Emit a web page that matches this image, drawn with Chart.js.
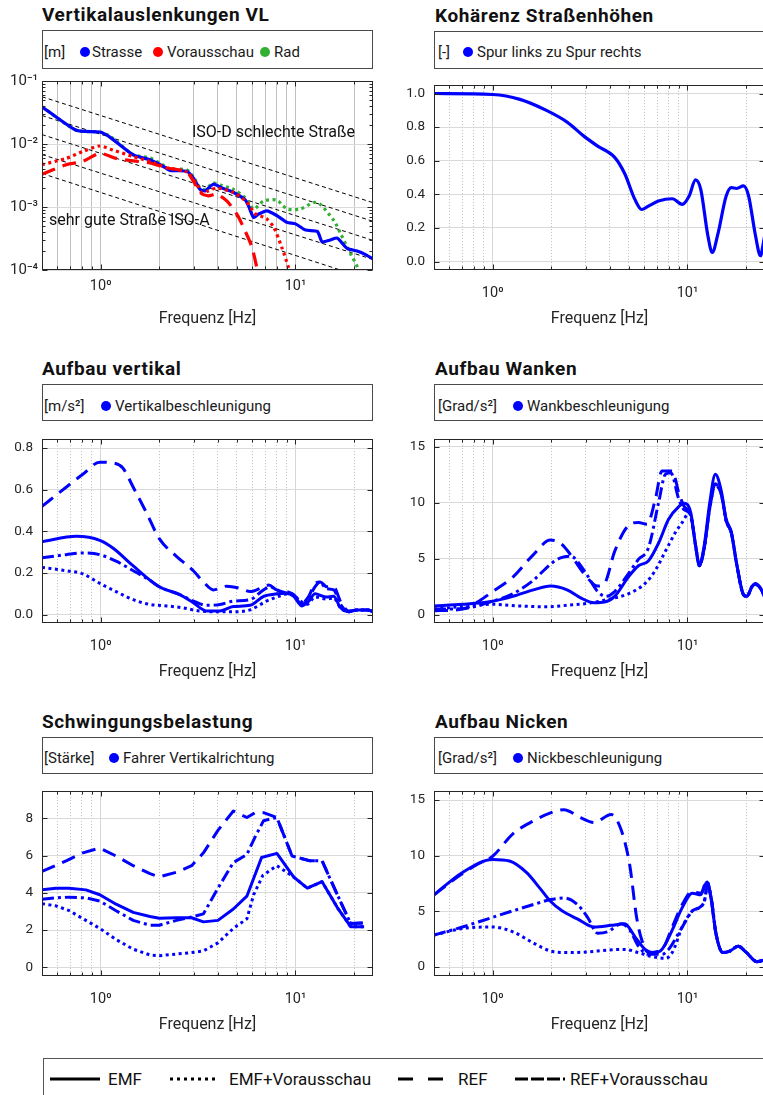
<!DOCTYPE html>
<html><head><meta charset="utf-8">
<script src="https://cdn.jsdelivr.net/npm/chart.js@4"></script>
<style>
body{margin:0;width:763px;height:1095px;overflow:hidden;background:#fff;position:relative;font-family:Roboto,'DejaVu Sans',sans-serif;color:#1a1a1a}
.title{position:absolute;font-weight:bold;font-size:19px;line-height:19px;letter-spacing:0.6px;white-space:nowrap;color:#111}
.lbox{position:absolute;border:1px solid #4a4a4a;background:#fff;box-sizing:border-box}
.lt{position:absolute;font-size:15px;line-height:15px;white-space:nowrap;color:#1a1a1a}
.dot{position:absolute;width:10px;height:10px;border-radius:50%}
.ann{position:absolute;font-size:16px;line-height:16px;white-space:nowrap;color:#111}
canvas{position:absolute}
</style>
</head><body>
<script>
// ---------- axes ----------
const xGridValues = [0.5,0.6,0.7,0.8,0.9,1,2,3,4,5,6,7,8,9,10,20];
const xTickLabels = {1:'10⁰', 10:'10¹'};
const vlTicks = [1e-4,1e-3,1e-2,1e-1];
const vlTickLabels = ['10⁻⁴','10⁻³','10⁻²','10⁻¹'];
const vlMinorTicks = [2e-4,3e-4,4e-4,5e-4,6e-4,7e-4,8e-4,9e-4,2e-3,3e-3,4e-3,5e-3,6e-3,7e-3,8e-3,9e-3,2e-2,3e-2,4e-2,5e-2,6e-2,7e-2,8e-2,9e-2];
const kohTicks = [0,0.2,0.4,0.6,0.8,1.0];
const avTicks = [0,0.2,0.4,0.6,0.8];
const wankTicks = [0,5,10,15];
const schwTicks = [0,2,4,6,8];
const nickTicks = [0,5,10,15];

// ---------- Vertikalauslenkungen VL ----------
const vlStrasseF = [0.5,0.75,0.99,1.11,1.47,1.79,2.1,2.27,2.76,2.99,3.24,3.43,3.79,4.19,4.81,5.52,5.74,6.1,6.46,7.13,8.03,9.05,10,11.26,12.95,13.7,15.1,16.4,18.4,20.7,22.5,25];
const vlStrasse  = [0.039,0.0165,0.0155,0.013,0.0067,0.0056,0.0044,0.0038,0.0037,0.0029,0.0019,0.0018,0.0023,0.0020,0.0017,0.0013,0.00104,0.00068,0.00077,0.00087,0.00073,0.00057,0.00054,0.00043,0.00041,0.00028,0.0003,0.00032,0.00022,0.0002,0.00018,0.00015];
const vlRadF = [0.5,0.75,0.99,1.11,1.47,1.79,2.1,2.27,2.76,2.99,3.24,3.43,3.79,4.19,4.81,5.52,6.1,6.86,8.03,9.05,10.6,12.4,13.4,15.8,17.1,19.2,20.8,22];
const vlRad  = [0.039,0.0165,0.0155,0.0135,0.0068,0.006,0.0046,0.004,0.0039,0.003,0.002,0.0019,0.0024,0.0022,0.0019,0.0014,0.00093,0.00125,0.00128,0.00093,0.00093,0.00118,0.0011,0.0006,0.00037,0.00018,0.00011,0.00006];
const vlVorPunktF = [0.5,0.665,0.81,0.99,1.16,1.47,1.79,2.18,2.76,3.11,3.3,3.57,3.94,4.81,5.62,6.22,6.86,7.13,7.73,8.5,9.2,9.6];
const vlVorPunkt  = [0.0047,0.0059,0.0076,0.0093,0.008,0.0063,0.0053,0.0042,0.0036,0.0023,0.0017,0.0018,0.002,0.0017,0.0012,0.00078,0.00069,0.00065,0.00048,0.00023,0.00011,0.00006];
const vlVorStrichF = [0.5,0.665,0.81,0.99,1.2,1.47,1.79,2.18,2.76,2.99,3.24,3.57,3.94,4.44,5.0,5.4,5.98,6.33,6.6];
const vlVorStrich  = [0.0033,0.0047,0.0053,0.0071,0.0059,0.0054,0.005,0.0042,0.0036,0.0026,0.0017,0.0015,0.0016,0.00125,0.00077,0.00048,0.00023,0.00011,0.00006];
const isoF = [0.5,25];
const isoE = [0.0562,0.00117];
const isoD = [0.0283,0.000593];
const isoC = [0.0141,0.000295];
const isoB = [0.0068,0.000147];
const isoA = [0.0034,0.000068];

// ---------- Kohärenz ----------
const kohF = [0.5,1.0,1.38,1.9,2.41,2.95,3.46,4.23,4.76,5.37,5.82,6.3,7.1,8.35,9.4,10.2,11.0,11.7,12.7,13.4,14.3,15.8,16.8,17.9,19.4,20.6,22.3,23.7,24.6,25.6];
const koh  = [1.0,0.994,0.965,0.898,0.83,0.745,0.687,0.62,0.524,0.37,0.31,0.33,0.36,0.374,0.34,0.39,0.486,0.43,0.16,0.054,0.16,0.39,0.44,0.435,0.45,0.39,0.16,0.035,0.12,0.24];

// ---------- Aufbau vertikal ----------
const avEmfF = [0.5,0.75,0.99,1.16,1.47,2.0,2.55,2.99,3.5,4.1,4.8,5.85,6.86,8.0,9.0,9.8,10.8,11.7,12.6,14.3,15.7,17.0,18.8,20.8,23.4,25];
const avEmf  = [0.35,0.376,0.357,0.319,0.234,0.134,0.096,0.057,0.018,0.018,0.039,0.045,0.088,0.1,0.103,0.088,0.042,0.065,0.1,0.085,0.088,0.034,0.014,0.023,0.023,0.014];
const avEmfVF = [0.5,0.665,0.81,0.99,1.2,1.47,1.79,2.18,2.6,3.2,3.94,4.8,5.85,7.1,8.4,9.4,10.6,11.5,12.6,14.3,15.7,17.0,18.8,20.8,23.4,25];
const avEmfV  = [0.227,0.211,0.196,0.15,0.111,0.072,0.049,0.042,0.034,0.018,0.014,0.014,0.023,0.065,0.091,0.103,0.065,0.05,0.085,0.075,0.08,0.034,0.014,0.023,0.023,0.014];
const avRefF = [0.5,0.665,0.81,0.99,1.16,1.3,1.47,1.72,2.0,2.45,2.99,3.37,3.79,4.44,5.2,5.85,6.86,7.3,8.0,9.05,9.8,10.8,11.7,12.6,13.4,14.5,15.7,17.0,18.8,20.8,23.4,25];
const avRef  = [0.52,0.612,0.674,0.732,0.728,0.704,0.612,0.489,0.365,0.28,0.211,0.157,0.119,0.137,0.126,0.111,0.134,0.142,0.119,0.111,0.096,0.057,0.088,0.15,0.157,0.134,0.134,0.065,0.018,0.023,0.023,0.014];
const avRefVF = [0.5,0.665,0.81,0.99,1.2,1.47,1.79,2.0,2.55,3.0,3.5,4.1,4.8,5.85,6.86,7.4,8.0,9.05,9.8,10.8,11.7,12.6,13.4,14.3,15.7,17.0,18.8,20.8,23.4,25];
const avRefV  = [0.273,0.288,0.296,0.288,0.257,0.211,0.165,0.134,0.096,0.065,0.045,0.049,0.065,0.072,0.119,0.134,0.119,0.103,0.091,0.05,0.08,0.134,0.157,0.126,0.119,0.05,0.014,0.023,0.023,0.014];

// ---------- Aufbau Wanken ----------
const wkEmfF = [0.5,0.7,1.0,1.27,1.62,1.98,2.41,2.83,3.32,3.75,4.23,4.97,5.6,6.3,7.1,8.0,9.05,9.6,10.4,11.0,11.5,12.2,13.0,13.9,14.9,15.8,16.8,17.9,19.4,20.2,21.4,22.3,23.7,25.6];
const wkEmf  = [0.8,0.95,1.23,1.66,2.24,2.58,2.24,1.52,1.09,1.15,1.66,3.38,4.39,4.82,6.4,8.55,9.7,9.98,9.12,6.25,4.53,6.25,9.98,12.56,11.1,8.55,7.4,4.53,1.81,1.66,2.52,2.81,2.38,1.09];
const wkEmfVF = [0.5,0.7,1.0,1.38,1.9,2.41,3.07,3.9,4.97,6.06,6.83,7.7,8.7,9.4,10.2,11.0,11.5,12.2,13.0,13.9,14.9,15.8,16.8,17.9,19.4,20.2,21.4,22.3,23.7,25.6];
const wkEmfV  = [0.52,0.75,0.95,0.8,0.72,0.86,1.03,1.38,1.89,2.81,3.96,5.68,7.4,8.26,9.12,6.25,4.4,6.0,9.5,11.7,10.8,8.4,7.3,4.5,1.8,1.66,2.5,2.75,2.38,1.09];
const wkRefF = [0.5,0.7,0.85,1.0,1.27,1.62,1.98,2.23,2.51,2.95,3.46,3.75,4.23,4.97,5.6,6.2,6.83,7.4,8.35,9.05,9.6,10.4,11.0,11.5,12.2,13.0,13.9,14.9,15.8,16.8,17.9,19.4,20.2,21.4,22.3,23.7,25.6];
const wkRef  = [0.37,0.52,1.23,2.09,3.38,5.39,6.68,6.4,5.39,3.67,2.58,2.81,5.68,7.97,8.26,8.1,10.27,12.85,12.85,10.84,9.7,8.9,6.2,4.4,6.0,9.5,11.5,10.8,8.4,7.3,4.5,1.8,1.66,2.5,2.75,2.38,1.09];
const wkRefVF = [0.5,0.7,1.0,1.27,1.62,1.98,2.23,2.51,2.95,3.46,3.82,4.23,4.97,5.6,6.3,7.1,7.7,8.2,9.05,9.6,10.4,11.0,11.5,12.2,13.0,13.9,14.9,15.8,16.8,17.9,19.4,20.2,21.4,22.3,23.7,25.6];
const wkRefV  = [0.52,0.57,1.23,1.89,3.1,4.53,5.1,5.25,3.96,2.09,1.66,2.09,3.67,4.96,5.97,9.98,12.56,12.7,10.27,9.4,8.9,6.2,4.4,6.0,9.5,11.7,10.8,8.4,7.3,4.5,1.8,1.66,2.5,2.75,2.38,1.09];

// ---------- Schwingungsbelastung ----------
const sbEmfF = [0.5,0.59,0.69,0.84,0.99,1.2,1.47,1.79,2.0,2.45,2.93,3.37,4.0,4.8,5.63,6.7,8.03,9.8,11.5,13.7,16.4,19.2,22.5];
const sbEmf  = [4.16,4.25,4.25,4.16,3.9,3.39,2.95,2.73,2.64,2.66,2.66,2.44,2.52,3.13,3.82,5.9,6.12,4.85,4.25,4.6,3.21,2.18,2.18];
const sbEmfVF = [0.5,0.59,0.69,0.84,0.99,1.2,1.47,1.79,2.0,2.45,2.93,3.37,4.0,4.8,5.63,6.1,6.8,8.03,9.8,11.5,13.7,16.4,19.2,22.5];
const sbEmfV  = [3.42,3.3,3.04,2.52,2.09,1.49,0.97,0.66,0.62,0.71,0.79,0.88,1.31,2.09,2.6,3.9,4.94,5.46,4.85,4.25,4.6,3.21,2.18,2.18];
const sbRefF = [0.5,0.665,0.81,0.99,1.2,1.47,1.79,2.0,2.45,2.93,3.37,4.0,4.8,5.63,6.2,6.86,8.03,9.6,11.9,13.7,16.4,19.2,22.5];
const sbRef  = [5.15,5.72,6.15,6.41,5.98,5.46,5.03,4.86,5.11,5.46,6.15,7.36,8.4,8.05,8.31,8.31,8.05,5.98,5.72,5.72,3.9,2.35,2.38];
const sbRefVF = [0.5,0.59,0.69,0.84,0.99,1.2,1.47,1.79,2.0,2.45,2.93,3.37,4.0,4.8,5.63,6.2,6.86,8.03,9.6,11.9,13.7,16.4,19.2,22.5];
const sbRefV  = [3.65,3.73,3.77,3.73,3.56,3.04,2.52,2.26,2.26,2.52,2.7,2.87,4.25,5.63,6.06,7.0,7.88,8.05,5.98,5.72,5.72,3.9,2.35,2.38];

// ---------- Aufbau Nicken ----------
const nkEmfF = [0.5,0.7,1.0,1.22,1.49,1.75,1.98,2.27,2.72,3.32,4.06,4.76,5.37,6.06,6.83,7.4,8.35,9.4,10.6,11.7,12.6,13.2,14.0,15.2,16.5,18.2,20.1,22.7,25.6];
const nkEmf  = [6.49,8.5,9.66,9.52,8.5,7.07,5.91,5.05,4.33,3.6,3.75,3.89,2.74,1.59,1.3,1.59,3.32,5.34,6.63,6.49,7.64,6.2,3.03,1.3,1.44,1.87,1.3,0.49,0.72];
const nkEmfVF = [0.5,0.7,1.0,1.27,1.62,1.98,2.41,3.07,3.9,4.76,5.6,6.56,7.7,8.35,9.4,10.6,11.5,12.2,12.7,13.3,14.0,15.2,16.5,18.2,20.1,22.7,25.6];
const nkEmfV  = [2.88,3.46,3.6,3.17,2.16,1.44,1.3,1.36,1.53,1.59,1.3,0.95,0.78,1.3,3.6,5.05,5.34,5.91,7.36,6.0,3.03,1.3,1.44,1.87,1.3,0.49,0.72];
const nkRefF = [0.5,0.7,0.85,1.0,1.27,1.62,1.98,2.32,2.83,3.32,4.06,4.58,5.06,5.48,5.82,6.3,7.4,8.35,9.4,10.6,11.7,12.6,13.2,14.0,15.2,16.5,18.2,20.1,22.7,25.6];
const nkRef  = [6.49,8.4,9.3,9.95,11.97,13.13,13.85,14.13,13.41,12.98,13.7,12.26,9.09,4.47,2.45,1.3,1.59,3.6,5.62,6.78,6.63,7.79,6.2,3.03,1.3,1.44,1.87,1.3,0.49,0.72];
const nkRefVF = [0.5,0.7,1.0,1.27,1.62,1.98,2.32,2.72,3.07,3.46,3.9,4.58,5.06,5.6,6.3,7.4,8.0,9.4,10.6,11.5,12.2,12.7,13.3,14.0,15.2,16.5,18.2,20.1,22.7,25.6];
const nkRefV  = [2.88,3.6,4.47,5.05,5.62,6.06,6.2,5.62,4.47,3.03,3.17,3.89,3.32,1.87,1.15,1.15,1.59,3.6,5.05,5.34,5.91,7.36,6.0,3.03,1.3,1.44,1.87,1.3,0.49,0.72];

// ---------- helpers ----------
const FONT = "Roboto, 'DejaVu Sans', sans-serif";
const BLUE = '#0000ff', RED = '#ff0000', GREEN = '#33b033';
const DASH = {emf:[], emfV:[3,3.5], ref:[14,8], refV:[12,4,3,4]};

function ds(f, v, color, dash, width, extra){
  return Object.assign({
    data: f.map((x,i)=>({x:x, y:v[i]})),
    borderColor: color, borderWidth: width, borderDash: dash,
    borderCapStyle:'butt', borderJoinStyle:'round',
    pointRadius:0, fill:false
  }, extra||{});
}
function fourSeries(a, smooth){
  const ex = smooth ? {cubicInterpolationMode:'monotone'} : {tension:0};
  return [
    ds(a[0],a[1],BLUE,DASH.emf,3,ex),
    ds(a[2],a[3],BLUE,DASH.emfV,3,ex),
    ds(a[4],a[5],BLUE,DASH.ref,3,ex),
    ds(a[6],a[7],BLUE,DASH.refV,3,ex)
  ];
}

const framePlugin = {
  id:'frame',
  afterDatasetsDraw(chart, args, opts){
    const {ctx, chartArea:a, scales} = chart;
    ctx.save();
    ctx.strokeStyle = '#262626'; ctx.lineWidth = 1;
    const l = Math.round(a.left)+0.5, r = Math.round(a.right)-0.5, t = Math.round(a.top)+0.5, b = Math.round(a.bottom)-0.5;
    ctx.strokeRect(l, t, r-l, b-t);
    ctx.beginPath();
    for (const v of xGridValues){
      const x = Math.round(scales.x.getPixelForValue(v))+0.5;
      const len = (v===1||v===10) ? 5 : 3;
      ctx.moveTo(x,b); ctx.lineTo(x,b-len); ctx.moveTo(x,t); ctx.lineTo(x,t+len);
    }
    for (const v of opts.yTicks){
      const y = Math.round(scales.y.getPixelForValue(v))+0.5;
      ctx.moveTo(l,y); ctx.lineTo(l+5,y); ctx.moveTo(r,y); ctx.lineTo(r-5,y);
    }
    for (const v of (opts.yMinor||[])){
      const y = Math.round(scales.y.getPixelForValue(v))+0.5;
      ctx.moveTo(l,y); ctx.lineTo(l+3,y); ctx.moveTo(r,y); ctx.lineTo(r-3,y);
    }
    ctx.stroke();
    ctx.restore();
  }
};

function makePanel(cfg){
  const padT = 10, padR = 12, yW = 42, xH = 60;
  const W = yW + cfg.w + padR, H = padT + cfg.h + xH;
  const c = document.createElement('canvas');
  c.width = W; c.height = H;
  c.style.left = (cfg.left - yW) + 'px'; c.style.top = (cfg.top - padT) + 'px';
  c.style.width = W + 'px'; c.style.height = H + 'px';
  document.body.appendChild(c);
  const isMajor = v => v===1 || v===10;
  new Chart(c, {
    type:'line',
    data:{datasets: cfg.datasets},
    options:{
      responsive:false, animation:false, devicePixelRatio:1,
      layout:{padding:{top:padT, right:padR, left:0, bottom:0}},
      plugins:{legend:{display:false}, tooltip:{enabled:false}, frame:{yTicks:cfg.yTicks, yMinor:cfg.yMinor}},
      scales:{
        x:{
          type:'logarithmic', min:0.5, max:25,
          afterFit: s => { s.height = xH; },
          afterBuildTicks: s => { s.ticks = xGridValues.map(v => ({value:v})); },
          ticks:{autoSkip:false, maxRotation:0, minRotation:0, padding:cfg.xPad, color:'#262626',
                 font:{size:14.5, family:FONT}, callback: v => xTickLabels[v] || ''},
          grid:{drawTicks:false, lineWidth:1,
                color: ctx => cfg.solidMinor ? '#c2c2c2' : (isMajor(ctx.tick && ctx.tick.value) ? '#d6d6d6' : '#bdbdbd')},
          border:{display:false, dash: ctx => (cfg.solidMinor || isMajor(ctx.tick && ctx.tick.value)) ? [] : [1,2]},
          title:{display:true, text:'Frequenz [Hz]', color:'#262626', font:{size:16, family:FONT}, padding:{top:0, bottom:1}}
        },
        y:{
          type: cfg.yType || 'linear', min: cfg.yMin, max: cfg.yMax,
          afterFit: s => { s.width = yW; },
          afterBuildTicks: s => { s.ticks = cfg.yTicks.map(v => ({value:v})); },
          ticks:{autoSkip:false, padding:cfg.yPad || 9, color:'#262626', font:{size:cfg.yFont || 13.5, family:FONT}, callback: cfg.yFmt},
          grid:{drawTicks:false, lineWidth:1, color:'#dadada'},
          border:{display:false}
        }
      }
    },
    plugins:[framePlugin]
  });
}

function addTitle(text, left, top){
  const d = document.createElement('div'); d.className='title'; d.textContent=text;
  d.style.left = left+'px'; d.style.top = top+'px'; document.body.appendChild(d);
}
function addLegendBox(box, cy, items){
  const b = document.createElement('div'); b.className='lbox';
  b.style.left=box[0]+'px'; b.style.top=box[1]+'px'; b.style.width=box[2]+'px'; b.style.height=box[3]+'px';
  document.body.appendChild(b);
  for (const it of items){
    if (it.dot){
      const d = document.createElement('div'); d.className='dot'; d.style.background=it.dot;
      d.style.left=(it.x-5)+'px'; d.style.top=(cy-5)+'px'; document.body.appendChild(d);
    } else {
      const s = document.createElement('div'); s.className='lt'; s.innerHTML=it.t;
      s.style.left=it.x+'px'; s.style.top=(cy-7)+'px'; document.body.appendChild(s);
    }
  }
}
function addAnn(text, left, cy){
  const d = document.createElement('div'); d.className='ann'; d.textContent=text;
  d.style.left=left+'px'; d.style.top=(cy-8)+'px'; document.body.appendChild(d);
}

const fmt1 = v => Number(v).toFixed(1);
const fmt0 = v => String(Math.round(v));

// ---------- Panel 1 ----------
addTitle('Vertikalauslenkungen VL', 42, 5);
addLegendBox([42,30,331,39], 52, [
  {t:'[m]', x:44},{dot:BLUE, x:85},{t:'Strasse', x:92},
  {dot:RED, x:158},{t:'Vorausschau', x:167},{dot:GREEN, x:265},{t:'Rad', x:274}]);
makePanel({left:42, top:78, w:331, h:192, xPad:8, solidMinor:true,
  yType:'logarithmic', yMin:1e-4, yMax:1e-1, yTicks:vlTicks, yMinor:vlMinorTicks, yFont:15, yPad:4,
  yFmt: v => vlTickLabels[vlTicks.findIndex(t => Math.abs(Math.log10(t)-Math.log10(v))<1e-6)] || '',
  datasets:[
    ds(vlVorPunktF, vlVorPunkt, RED, [3,3.5], 3.2, {tension:0.25}),
    ds(vlVorStrichF, vlVorStrich, RED, [14,8], 3.2, {tension:0.25}),
    ds(vlStrasseF, vlStrasse, BLUE, [], 3.2, {tension:0.2}),
    ds(vlRadF, vlRad, GREEN, [3,3.5], 3.2, {tension:0.25}),
    ds(isoF, isoE, '#000', [4,3], 1), ds(isoF, isoD, '#000', [4,3], 1),
    ds(isoF, isoC, '#000', [4,3], 1), ds(isoF, isoB, '#000', [4,3], 1),
    ds(isoF, isoA, '#000', [4,3], 1)
  ]});
addAnn('ISO-D schlechte Straße', 192, 132);
addAnn('sehr gute Straße ISO-A', 49, 220);

// ---------- Panel 2 ----------
addTitle('Kohärenz Straßenhöhen', 435, 6);
addLegendBox([434,31,340,38], 52, [
  {t:'[-]', x:438},{dot:BLUE, x:468},{t:'Spur links zu Spur rechts', x:477}]);
makePanel({left:434, top:78, w:331, h:192, xPad:15,
  yMin:-0.05, yMax:1.05, yTicks:kohTicks, yFmt:fmt1,
  datasets:[ds(kohF, koh, BLUE, [], 3.2, {cubicInterpolationMode:'monotone'})]});

// ---------- Panel 3 ----------
addTitle('Aufbau vertikal', 42, 359);
addLegendBox([42,384,331,37], 406, [
  {t:'[m/s²]', x:44},{dot:BLUE, x:106},{t:'Vertikalbeschleunigung', x:115}]);
makePanel({left:42, top:432, w:331, h:191, xPad:15,
  yMin:-0.04, yMax:0.843, yTicks:avTicks, yFmt:fmt1,
  datasets: fourSeries([avEmfF,avEmf,avEmfVF,avEmfV,avRefF,avRef,avRefVF,avRefV], true)});

// ---------- Panel 4 ----------
addTitle('Aufbau Wanken', 435, 359);
addLegendBox([434,384,340,37], 406, [
  {t:'[Grad/s²]', x:438},{dot:BLUE, x:518},{t:'Wankbeschleunigung', x:527}]);
makePanel({left:434, top:432, w:331, h:191, xPad:15,
  yMin:-0.72, yMax:15.7, yTicks:wankTicks, yFmt:fmt0,
  datasets: fourSeries([wkEmfF,wkEmf,wkEmfVF,wkEmfV,wkRefF,wkRef,wkRefVF,wkRefV], true)});

// ---------- Panel 5 ----------
addTitle('Schwingungsbelastung', 42, 712);
addLegendBox([42,737,331,37], 758, [
  {t:'[Stärke]', x:44},{dot:BLUE, x:114},{t:'Fahrer Vertikalrichtung', x:123}]);
makePanel({left:42, top:784, w:331, h:192, xPad:15,
  yMin:-0.47, yMax:9.47, yTicks:schwTicks, yFmt:fmt0,
  datasets: fourSeries([sbEmfF,sbEmf,sbEmfVF,sbEmfV,sbRefF,sbRef,sbRefVF,sbRefV], false)});

// ---------- Panel 6 ----------
addTitle('Aufbau Nicken', 435, 712);
addLegendBox([434,737,340,37], 758, [
  {t:'[Grad/s²]', x:438},{dot:BLUE, x:518},{t:'Nickbeschleunigung', x:527}]);
makePanel({left:434, top:784, w:331, h:192, xPad:15,
  yMin:-0.8, yMax:15.8, yTicks:nickTicks, yFmt:fmt0,
  datasets: fourSeries([nkEmfF,nkEmf,nkEmfVF,nkEmfV,nkRefF,nkRef,nkRefVF,nkRefV], true)});
</script>

<div class="lbox" style="left:43px;top:1058px;width:760px;height:60px;border-color:#555"></div>
<svg style="position:absolute;left:0;top:1058px" width="763" height="37">
  <g stroke="#000" stroke-width="3" fill="none">
    <line x1="50" y1="21" x2="100" y2="21"/>
    <line x1="170" y1="21" x2="218" y2="21" stroke-dasharray="3 4"/>
    <line x1="398" y1="21" x2="443" y2="21" stroke-dasharray="15 15"/>
    <line x1="515" y1="21" x2="565" y2="21" stroke-dasharray="13 3 13 3 13 3 2 20"/>
  </g>
</svg>
<div class="ann" style="left:108px;top:1071px;font-size:17px;line-height:17px">EMF</div>
<div class="ann" style="left:229px;top:1071px;font-size:17px;line-height:17px">EMF+Vorausschau</div>
<div class="ann" style="left:458px;top:1071px;font-size:17px;line-height:17px">REF</div>
<div class="ann" style="left:570px;top:1071px;font-size:17px;line-height:17px">REF+Vorausschau</div>
</body></html>
